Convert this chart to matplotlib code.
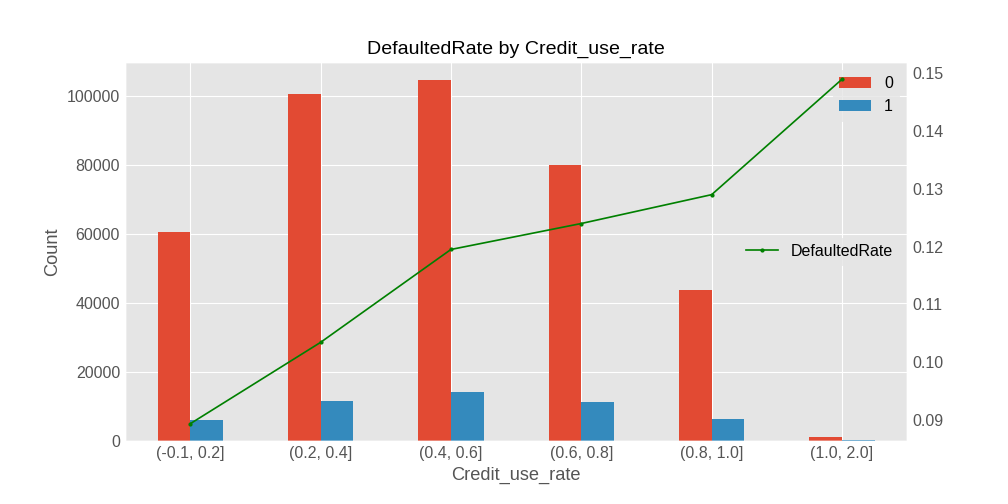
import matplotlib
matplotlib.use("Agg")
import matplotlib.pyplot as plt
import numpy as np

plt.style.use('ggplot')
plt.rcParams['font.family'] = ['Liberation Sans', 'DejaVu Sans']

categories = ['(-0.1, 0.2]', '(0.2, 0.4]', '(0.4, 0.6]', '(0.6, 0.8]', '(0.8, 1.0]', '(1.0, 2.0]']
count_0 = [60700, 100600, 104600, 80100, 43700, 1150]
count_1 = [6100, 11600, 14200, 11300, 6400, 300]
defaulted_rate = [0.0893, 0.1034, 0.1195, 0.1240, 0.1290, 0.1490]

fs = 11.4

fig, ax = plt.subplots(figsize=(10, 5), dpi=100.8)
x = np.arange(len(categories))
w = 0.25
ax.bar(x - w / 2, count_0, w, label='0', color='#E24A33')
ax.bar(x + w / 2, count_1, w, label='1', color='#348ABD')
ax.set_xlim(-0.5, len(categories) - 0.5)
ax.set_xticks(x)
ax.set_xticklabels(categories)
ax.tick_params(axis='both', labelsize=fs, length=0, labelcolor='#555555')
ax.set_xlabel('Credit_use_rate', fontsize=13)
ax.set_ylabel('Count', fontsize=13)
ax.set_title('DefaultedRate by Credit_use_rate', fontsize=14)
ax.legend(loc='upper right', fontsize=fs, facecolor='#E5E5E5', edgecolor='#E5E5E5')

ax2 = ax.twinx()
ax2.plot(x, defaulted_rate, color='green', marker='.', markersize=4, linewidth=1.2, label='DefaultedRate')
ax2.grid(False)
ax2.tick_params(axis='y', labelsize=fs, length=0, labelcolor='#555555')
ax2.legend(loc='center right', fontsize=fs, facecolor='#E5E5E5', edgecolor='#E5E5E5')

fig.subplots_adjust(left=0.124, right=0.9, top=0.877, bottom=0.125)
fig.savefig('out.png')
